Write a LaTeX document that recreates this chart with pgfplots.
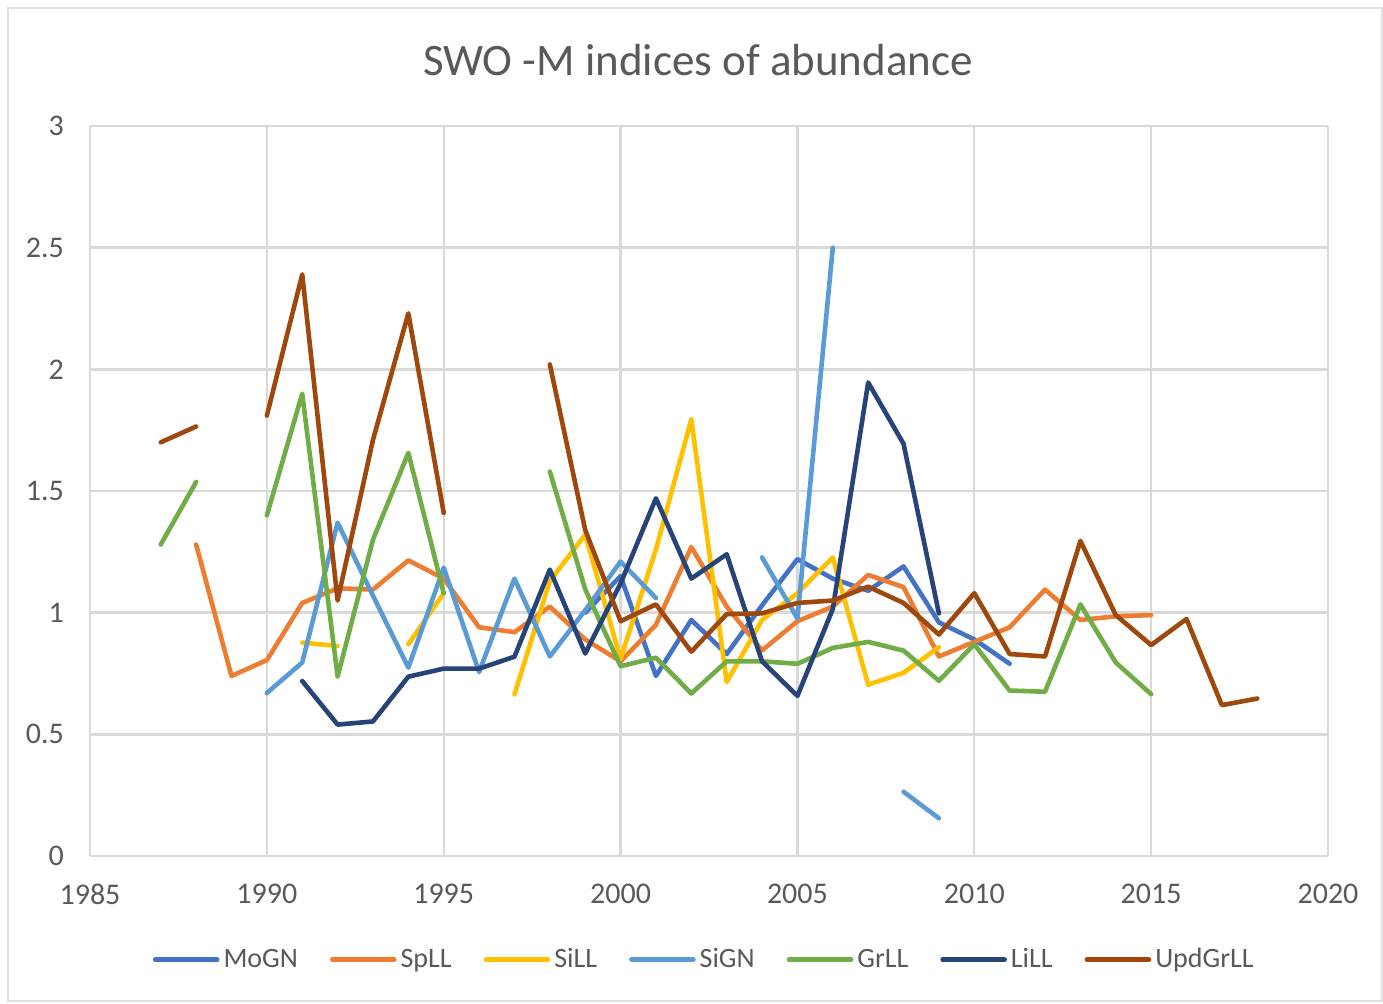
\documentclass[border=0pt]{standalone}
\usepackage{pgfplots}
\pgfplotsset{compat=1.18}
\usepackage{fontspec}
\setmainfont{Carlito}
\definecolor{MoGN}{HTML}{4472C4}
\definecolor{SpLL}{HTML}{ED7D31}
\definecolor{SiLL}{HTML}{FFC000}
\definecolor{SiGN}{HTML}{5B9BD5}
\definecolor{GrLL}{HTML}{70AD47}
\definecolor{LiLL}{HTML}{264478}
\definecolor{UpdGrLL}{HTML}{9E480E}
\definecolor{TxtGray}{HTML}{595959}
\definecolor{GridGray}{HTML}{D9D9D9}

\begin{document}
\begin{tikzpicture}
% outer chart frame (image 1383x1003 px -> 0.5pt per px)
\path[use as bounding box] (0,0) rectangle (691.5pt,501.5pt);
\draw[GridGray!80,line width=0.8pt] (4pt,1pt) rectangle (691pt,497.5pt);
\node[font=\fontsize{22.5}{26}\selectfont,text=TxtGray] at (349pt,471.5pt) {SWO -M indices of abundance};
\begin{axis}[
  at={(45pt,73.5pt)},anchor=south west,scale only axis,
  width=619pt,height=365pt,
  xmin=1985,xmax=2020,ymin=0,ymax=3,
  xtick={1985,1990,...,2020},ytick={0,0.5,...,3},
  /pgf/number format/assume math mode=true,
  xticklabel style={/pgf/number format/1000 sep={}},
  yticklabel style={/pgf/number format/fixed},
  tick label style={font=\fontsize{15}{17}\selectfont,text=TxtGray},
  yticklabel style={xshift=-9.5pt},
  xticklabel style={yshift=-10.5pt},
  major tick length=0pt,
  grid=major,grid style={GridGray,line width=1.2pt},
  axis line style={draw=none},
  unbounded coords=jump,
  every axis plot/.append style={line width=2.3pt,line join=round,line cap=round},
  legend columns=7,
  legend style={at={(0.497,-0.142)},anchor=center,draw=none,fill=none,
    font=\fontsize{14}{16}\selectfont,text=TxtGray,
    /tikz/every even column/.append style={column sep=14pt}},
  legend image code/.code={\draw[#1] (0pt,0pt) -- (31pt,0pt);},
]
\addplot[MoGN] coordinates {(1999,1.00) (2000,1.15) (2001,0.74) (2002,0.97) (2003,0.83) (2004,1.03) (2005,1.22) (2006,1.14) (2007,1.09) (2008,1.19) (2009,0.96) (2010,0.89) (2011,0.79)};
\addlegendentry{MoGN}
\addplot[SpLL] coordinates {(1988,1.28) (1989,0.74) (1990,0.805) (1991,1.04) (1992,1.10) (1993,1.095) (1994,1.215) (1995,1.14) (1996,0.94) (1997,0.92) (1998,1.025) (1999,0.89) (2000,0.80) (2001,0.95) (2002,1.27) (2003,1.025) (2004,0.845) (2005,0.965) (2006,1.025) (2007,1.155) (2008,1.105) (2009,0.82) (2010,0.88) (2011,0.94) (2012,1.095) (2013,0.97) (2014,0.985) (2015,0.99)};
\addlegendentry{SpLL}
\addplot[SiLL] coordinates {(1991,0.877) (1992,0.863) (1993,nan) (1994,0.87) (1995,1.08) (1996,nan) (1997,0.664) (1998,1.13) (1999,1.32) (2000,0.81) (2001,1.26) (2002,1.795) (2003,0.715) (2004,0.97) (2005,1.08) (2006,1.227) (2007,0.704) (2008,0.753) (2009,0.858)};
\addlegendentry{SiLL}
\addplot[SiGN] coordinates {(1990,0.67) (1991,0.795) (1992,1.37) (1993,1.07) (1994,0.774) (1995,1.185) (1996,0.756) (1997,1.14) (1998,0.82) (1999,1.01) (2000,1.21) (2001,1.06) (2002,nan) (2003,nan) (2004,1.227) (2005,0.976) (2006,2.5) (2007,nan) (2008,0.264) (2009,0.155)};
\addlegendentry{SiGN}
\addplot[GrLL] coordinates {(1987,1.28) (1988,1.537) (1989,nan) (1990,1.40) (1991,1.90) (1992,0.737) (1993,1.30) (1994,1.657) (1995,1.08) (1996,nan) (1997,nan) (1998,1.58) (1999,1.096) (2000,0.78) (2001,0.815) (2002,0.668) (2003,0.80) (2004,0.80) (2005,0.79) (2006,0.855) (2007,0.88) (2008,0.844) (2009,0.72) (2010,0.87) (2011,0.68) (2012,0.675) (2013,1.034) (2014,0.795) (2015,0.665)};
\addlegendentry{GrLL}
\addplot[LiLL] coordinates {(1991,0.719) (1992,0.54) (1993,0.553) (1994,0.737) (1995,0.77) (1996,0.77) (1997,0.819) (1998,1.177) (1999,0.832) (2000,1.12) (2001,1.47) (2002,1.14) (2003,1.24) (2004,0.80) (2005,0.658) (2006,1.015) (2007,1.946) (2008,1.694) (2009,0.997)};
\addlegendentry{LiLL}
\addplot[UpdGrLL] coordinates {(1987,1.70) (1988,1.765) (1989,nan) (1990,1.81) (1991,2.39) (1992,1.05) (1993,1.71) (1994,2.23) (1995,1.41) (1996,nan) (1997,nan) (1998,2.02) (1999,1.34) (2000,0.965) (2001,1.034) (2002,0.84) (2003,0.994) (2004,0.997) (2005,1.04) (2006,1.05) (2007,1.107) (2008,1.04) (2009,0.91) (2010,1.08) (2011,0.83) (2012,0.82) (2013,1.295) (2014,0.99) (2015,0.867) (2016,0.974) (2017,0.62) (2018,0.647)};
\addlegendentry{UpdGrLL}
\end{axis}
\end{tikzpicture}
\end{document}
